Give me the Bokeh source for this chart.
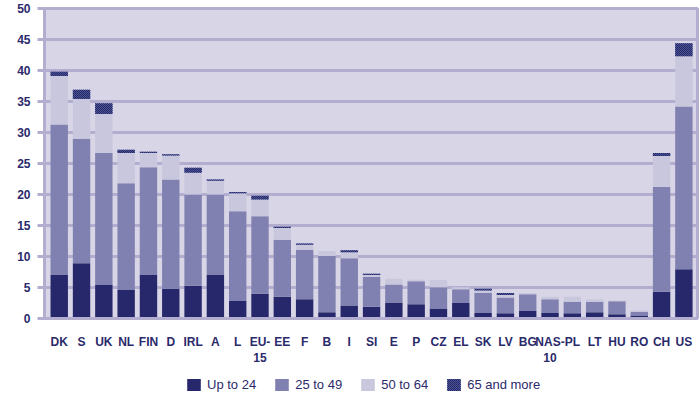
from bokeh.plotting import figure
from bokeh.layouts import column
from bokeh.models import ColumnDataSource, FixedTicker, Legend, LegendItem, Range1d
from bokeh.embed import file_html
from bokeh.resources import INLINE

countries = ["DK", "S", "UK", "NL", "FIN", "D", "IRL", "A", "L", "EU-\n15", "EE", "F", "B", "I",
             "SI", "E", "P", "CZ", "EL", "SK", "LV", "BG", "NAS-\n10", "PL", "LT", "HU", "RO", "CH", "US"]
up_to_24 = [7.0, 8.9, 5.5, 4.6, 7.0, 4.8, 5.3, 7.1, 2.9, 4.0, 3.5, 3.1, 1.0, 2.1,
            1.9, 2.6, 2.3, 1.6, 2.5, 0.9, 0.85, 1.2, 0.9, 0.85, 1.0, 0.7, 0.5, 4.3, 7.95]
age_25_49 = [24.3, 20.1, 21.2, 17.2, 17.4, 17.6, 14.7, 12.9, 14.4, 12.5, 9.2, 8.0, 9.1, 7.6,
             4.8, 2.9, 3.7, 3.45, 2.2, 3.2, 2.55, 2.7, 2.2, 1.85, 1.7, 2.1, 0.6, 16.9, 26.25]
age_50_64 = [7.8, 6.4, 6.3, 4.9, 2.3, 3.9, 3.5, 2.2, 2.9, 2.7, 1.9, 0.8, 0.8, 1.0,
             0.3, 0.9, 0.3, 1.15, 0.35, 0.4, 0.4, 0.2, 0.4, 0.8, 0.4, 0.1, 0.2, 5.0, 8.1]
age_65_more = [0.7, 1.5, 1.7, 0.5, 0.2, 0.2, 0.8, 0.2, 0.2, 0.6, 0.2, 0.2, 0.0, 0.3,
               0.2, 0.0, 0.0, 0.0, 0.0, 0.3, 0.3, 0.0, 0.0, 0.0, 0.0, 0.0, 0.0, 0.5, 2.1]
legend_labels = ["Up to 24", "25 to 49", "50 to 64", "65 and more"]
y_ticks = [0, 5, 10, 15, 20, 25, 30, 35, 40, 45, 50]

TEXT = "#2b2a6b"
GRID = "#b3aecf"
FILLS = ["#27286b", "#8181b1", "#c9c7dd", "#4a529a"]
HATCH = [" ", " ", " ", "diagonal_cross"]
HATCH_COLORS = ["#27286b", "#27286b", "#27286b", "#23265f"]
STACK = ["u24", "a2549", "a5064", "a65"]

xs = list(range(len(countries)))
src = ColumnDataSource(dict(x=xs, u24=up_to_24, a2549=age_25_49, a5064=age_50_64, a65=age_65_more))

p = figure(width=700, height=368, output_backend="svg", toolbar_location=None,
           x_range=Range1d(-0.66, len(countries) - 1 + 0.61), y_range=Range1d(0, 50),
           min_border_left=44, min_border_right=3, min_border_top=8, min_border_bottom=40)
p.background_fill_color = "#d8d6e6"
p.border_fill_color = "white"
p.outline_line_color = GRID
p.outline_line_width = 3

rs = p.vbar_stack(STACK, x="x", width=0.78, source=src,
                  fill_color=FILLS, line_color=None,
                  hatch_pattern=HATCH, hatch_color=HATCH_COLORS,
                  hatch_scale=[2, 2, 2, 2], hatch_weight=[1, 1, 1, 1])

p.xgrid.visible = False
p.ygrid.grid_line_color = GRID
p.ygrid.grid_line_width = 3
p.ygrid.level = "underlay"

p.yaxis.ticker = FixedTicker(ticks=y_ticks)
p.yaxis.axis_line_color = GRID
p.yaxis.axis_line_width = 3
p.yaxis.major_tick_line_color = GRID
p.yaxis.major_tick_line_width = 3
p.yaxis.major_tick_out = 7
p.yaxis.major_tick_in = 0
p.yaxis.minor_tick_line_color = None
p.yaxis.major_label_standoff = 7
p.yaxis.major_label_text_font = "Liberation Sans"
p.yaxis.major_label_text_font_style = "bold"
p.yaxis.major_label_text_font_size = "12px"
p.yaxis.major_label_text_color = TEXT

p.xaxis.ticker = FixedTicker(ticks=xs)
p.xaxis.major_label_overrides = {i: c for i, c in enumerate(countries)}
p.xaxis.axis_line_color = GRID
p.xaxis.axis_line_width = 3
p.xaxis.major_tick_line_color = None
p.xaxis.minor_tick_line_color = None
p.xaxis.major_tick_out = 0
p.xaxis.major_label_standoff = 16
p.xaxis.major_label_text_font = "Liberation Sans"
p.xaxis.major_label_text_font_style = "bold"
p.xaxis.major_label_text_font_size = "12px"
p.xaxis.major_label_text_color = TEXT

# legend strip: the same stacked bars, hidden; only their legend entries are shown
lg = figure(width=700, height=26, output_backend="svg", toolbar_location=None,
            x_axis_location=None, y_axis_location=None,
            x_range=Range1d(-0.66, len(countries) - 1 + 0.61), y_range=Range1d(100, 101),
            min_border_left=0, min_border_right=0, min_border_top=0, min_border_bottom=0,
            outline_line_color=None)
lg.grid.visible = False
lrs = lg.vbar_stack(STACK, x="x", width=0.78, source=src,
                    fill_color=FILLS, line_color=None,
                    hatch_pattern=HATCH, hatch_color=HATCH_COLORS,
                    hatch_scale=[2, 2, 2, 2], hatch_weight=[1, 1, 1, 1])
for r in lrs:
    r.visible = False
legend = Legend(items=[LegendItem(label=l, renderers=[r]) for l, r in zip(legend_labels, lrs)],
                orientation="horizontal", location=(141, 2),
                glyph_width=17, glyph_height=15, label_standoff=5, spacing=17,
                padding=0, margin=0, border_line_color=None, background_fill_alpha=0,
                inactive_fill_alpha=0,
                label_text_font="Liberation Sans", label_text_font_size="13px",
                label_text_color=TEXT, label_height=15)
lg.add_layout(legend)

layout = column(p, lg, spacing=0)
open("out.html", "w").write(file_html(layout, INLINE))
